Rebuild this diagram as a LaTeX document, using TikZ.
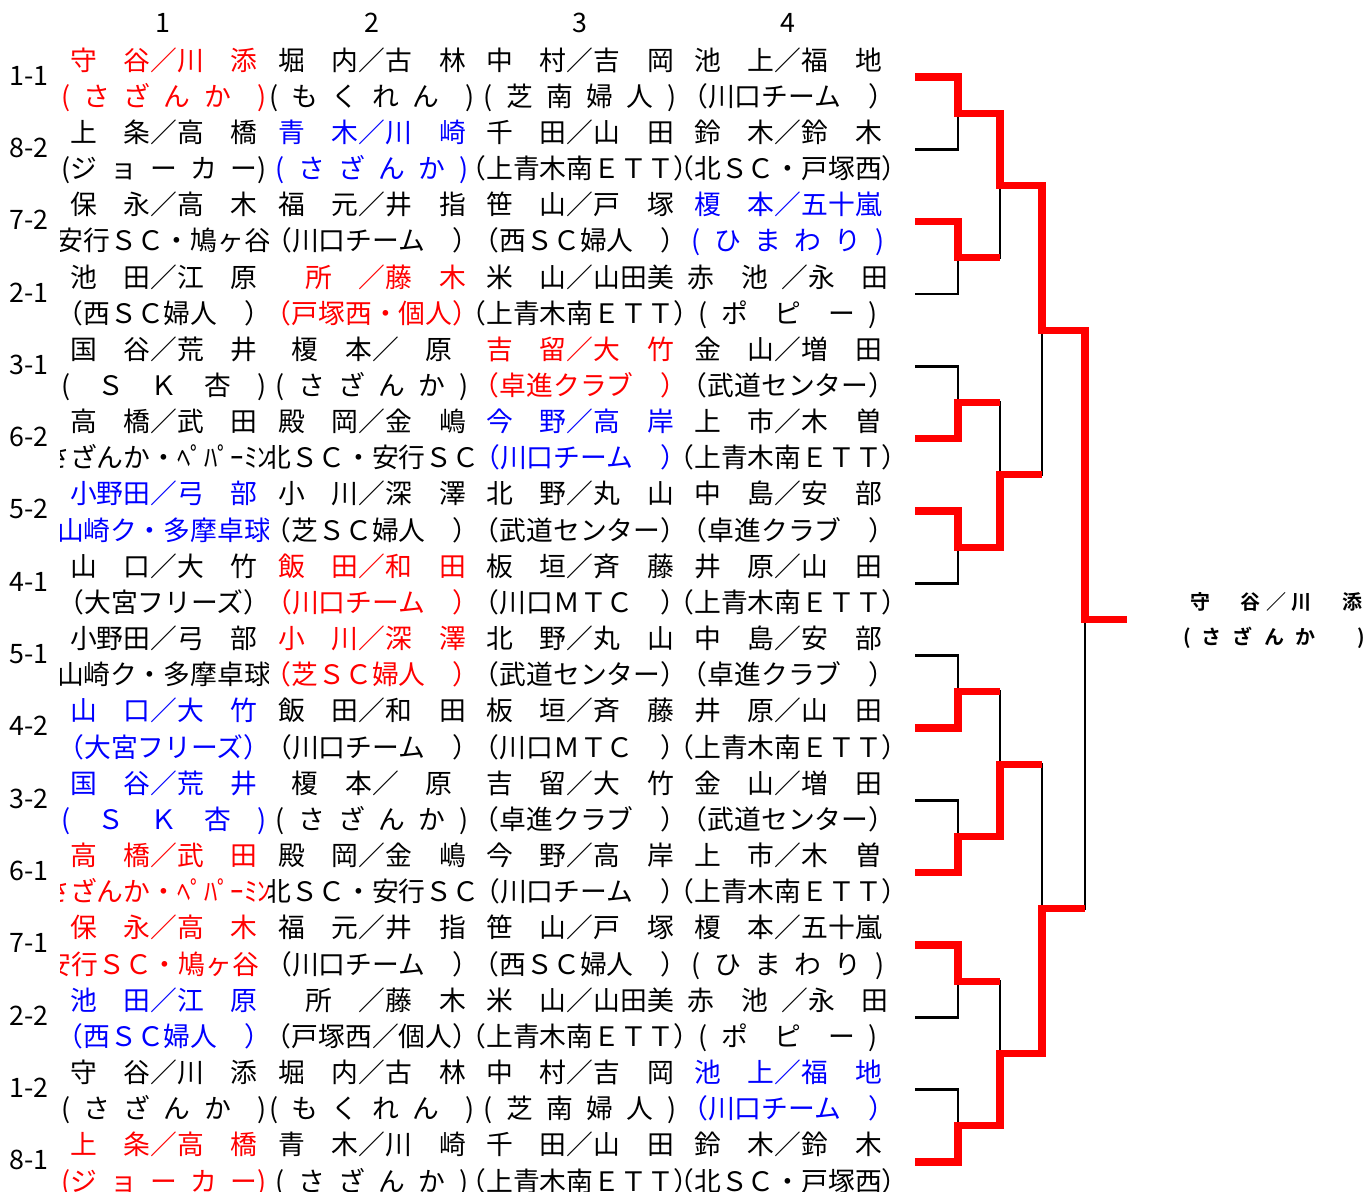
\documentclass[tikz,border=0pt]{standalone}
\usepackage{fontspec}
\usetikzlibrary{calc}

\newfontfamily\jpfont{Noto Sans CJK JP}
\IfFontExistsTF{Noto Sans CJK JP Bold}
  {\newfontfamily\jpboldfont{Noto Sans CJK JP Bold}}
  {\newfontfamily\jpboldfont{Noto Sans CJK JP}[FakeBold=4]}

\colorlet{winred}{red}
\definecolor{runblue}{RGB}{0,0,255}

\newcommand\fst[1]{\textcolor{winred}{#1}}
\newcommand\snd[1]{\textcolor{runblue}{#1}}
\newcommand\hsp{\hspace{.5em}}

\makeatletter
\newcommand\spreadtext[2]{\hbox to #1{\def\sp@sep{}%
  \@tfor\sp@tok:=#2\do{\sp@sep\sp@tok\def\sp@sep{\hfill}}}}
\makeatother

% one line of a cell, cut off at the cell edges
\newcommand\celltext[4]{%
  \begin{scope}
    \clip ({#2-104},{#3-18}) rectangle ({#2+104},{#3+18});
    \node[cell] (#1) at ({#2},{#3+10}) {#4};
  \end{scope}}

\newcommand\namerow[5]{%
  \pgfmathsetmacro\liney{60+72.33*#1}
  \celltext{n#1-1}{164}{\liney}{#2}
  \celltext{n#1-2}{372}{\liney}{#3}
  \celltext{n#1-3}{580}{\liney}{#4}
  \celltext{n#1-4}{788}{\liney}{#5}}

\newcommand\clubrow[5]{%
  \pgfmathsetmacro\liney{96.17+72.33*#1}
  \celltext{c#1-1}{164}{\liney}{#2}
  \celltext{c#1-2}{372}{\liney}{#3}
  \celltext{c#1-3}{580}{\liney}{#4}
  \celltext{c#1-4}{788}{\liney}{#5}}

\begin{document}
\begin{tikzpicture}[
  x=0.5pt, y=-0.5pt,
  cell/.style={anchor=base, inner sep=0pt, font=\jpfont\fontsize{13.4pt}{16pt}\selectfont},
  rowlab/.style={anchor=base, inner sep=0pt, font=\jpfont\fontsize{13.4pt}{16pt}\selectfont},
  colhead/.style={anchor=base, inner sep=0pt, font=\jpfont\fontsize{13.4pt}{16pt}\selectfont},
  champtxt/.style={anchor=base, inner sep=0pt, font=\jpboldfont\fontsize{10pt}{12pt}\selectfont},
  win/.style={draw=winred, line width=3.6pt},
  lose/.style={draw=black, line width=1.4pt},
]
\fill[white] (0,0) rectangle (1367,1191);
\useasboundingbox (0,0) rectangle (1367,1191);

% --- Column numbers and row labels ---
\foreach \c/\x in {1/163,2/372,3/580,4/788}
  \node[colhead] (h\c) at (\x,32) {\c};

\foreach \lab [count=\i from 0] in {1-1,8-2,7-2,2-1,3-1,6-2,5-2,4-1,5-1,4-2,3-2,6-1,7-1,2-2,1-2,8-1}
  \node[rowlab] (l\i) at (29,{85+72.33*\i}) {\lab};

% --- Table ---
\namerow{0}{\fst{守　谷／川　添}}{堀　内／古　林}{中　村／吉　岡}{池　上／福　地}
\clubrow{0}{\fst{(\hsp さ\hsp ざ\hsp ん\hsp か　)}}{(\hsp も\hsp く\hsp れ\hsp ん　)}{(\hsp 芝\hsp 南\hsp 婦\hsp 人\hsp )}{（川口チーム　）}

\namerow{1}{上　条／高　橋}{\snd{青　木／川　崎}}{千　田／山　田}{鈴　木／鈴　木}
\clubrow{1}{(ジ\hsp ョ\hsp ー\hsp カ\hsp ー)}{\snd{(\hsp さ\hsp ざ\hsp ん\hsp か\hsp )}}{（上青木南ＥＴＴ）}{（北ＳＣ・戸塚西）}

\namerow{2}{保　永／高　木}{福　元／井　指}{笹　山／戸　塚}{\snd{榎　本／五十嵐}}
\clubrow{2}{安行ＳＣ・鳩ヶ谷\hspace{.9em}}{（川口チーム　）}{（西ＳＣ婦人　）}{\snd{(\hsp ひ\hsp ま\hsp わ\hsp り\hsp )}}

\namerow{3}{池　田／江　原}{\fst{　所　／藤　木}}{米　山／山田美}{赤　池\hsp／永　田}
\clubrow{3}{（西ＳＣ婦人　）}{\fst{（戸塚西・個人）}}{（上青木南ＥＴＴ）}{(\hsp ポ　ピ　ー\hsp )}

\namerow{4}{国　谷／荒　井}{榎　本／　原}{\fst{吉　留／大　竹}}{金　山／増　田}
\clubrow{4}{(　Ｓ　Ｋ　杏　)}{(\hsp さ\hsp ざ\hsp ん\hsp か\hsp )}{\fst{（卓進クラブ　）}}{（武道センター）}

\namerow{5}{高　橋／武　田}{殿　岡／金　嶋}{\snd{今　野／高　岸}}{上　市／木　曽}
\clubrow{5}{（さざんか・ﾍﾟﾊﾟｰﾐﾝﾄ）}{（北ＳＣ・安行ＳＣ）}{\snd{（川口チーム　）}}{（上青木南ＥＴＴ）}

\namerow{6}{\snd{小野田／弓　部}}{小　川／深　澤}{北　野／丸　山}{中　島／安　部}
\clubrow{6}{\snd{山崎ク・多摩卓球}}{（芝ＳＣ婦人　）}{（武道センター）}{（卓進クラブ　）}

\namerow{7}{山　口／大　竹}{\fst{飯　田／和　田}}{板　垣／斉　藤}{井　原／山　田}
\clubrow{7}{（大宮フリーズ）}{\fst{（川口チーム　）}}{（川口ＭＴＣ　）}{（上青木南ＥＴＴ）}

\namerow{8}{小野田／弓　部}{\fst{小　川／深　澤}}{北　野／丸　山}{中　島／安　部}
\clubrow{8}{山崎ク・多摩卓球}{\fst{（芝ＳＣ婦人　）}}{（武道センター）}{（卓進クラブ　）}

\namerow{9}{\snd{山　口／大　竹}}{飯　田／和　田}{板　垣／斉　藤}{井　原／山　田}
\clubrow{9}{\snd{（大宮フリーズ）}}{（川口チーム　）}{（川口ＭＴＣ　）}{（上青木南ＥＴＴ）}

\namerow{10}{\snd{国　谷／荒　井}}{榎　本／　原}{吉　留／大　竹}{金　山／増　田}
\clubrow{10}{\snd{(　Ｓ　Ｋ　杏　)}}{(\hsp さ\hsp ざ\hsp ん\hsp か\hsp )}{（卓進クラブ　）}{（武道センター）}

\namerow{11}{\fst{高　橋／武　田}}{殿　岡／金　嶋}{今　野／高　岸}{上　市／木　曽}
\clubrow{11}{\fst{（さざんか・ﾍﾟﾊﾟｰﾐﾝﾄ）}}{（北ＳＣ・安行ＳＣ）}{（川口チーム　）}{（上青木南ＥＴＴ）}

\namerow{12}{\fst{保　永／高　木}}{福　元／井　指}{笹　山／戸　塚}{榎　本／五十嵐}
\clubrow{12}{\fst{安行ＳＣ・鳩ヶ谷\hspace{.9em}}}{（川口チーム　）}{（西ＳＣ婦人　）}{(\hsp ひ\hsp ま\hsp わ\hsp り\hsp )}

\namerow{13}{\snd{池　田／江　原}}{　所　／藤　木}{米　山／山田美}{赤　池\hsp／永　田}
\clubrow{13}{\snd{（西ＳＣ婦人　）}}{（戸塚西／個人）}{（上青木南ＥＴＴ）}{(\hsp ポ　ピ　ー\hsp )}

\namerow{14}{守　谷／川　添}{堀　内／古　林}{中　村／吉　岡}{\snd{池　上／福　地}}
\clubrow{14}{(\hsp さ\hsp ざ\hsp ん\hsp か　)}{(\hsp も\hsp く\hsp れ\hsp ん　)}{(\hsp 芝\hsp 南\hsp 婦\hsp 人\hsp )}{\snd{（川口チーム　）}}

\namerow{15}{\fst{上　条／高　橋}}{青　木／川　崎}{千　田／山　田}{鈴　木／鈴　木}
\clubrow{15}{\fst{(ジ\hsp ョ\hsp ー\hsp カ\hsp ー)}}{(\hsp さ\hsp ざ\hsp ん\hsp か\hsp )}{（上青木南ＥＴＴ）}{（北ＳＣ・戸塚西）}

% --- Bracket points ---
\foreach \k in {0,...,15}
  \coordinate (e\k) at (915,{77+72.33*\k});
\foreach \m in {0,...,7}
  \coordinate (j1-\m) at (958,{113.17+144.67*\m});
\foreach \m in {0,...,3}
  \coordinate (j2-\m) at (1000,{185.5+289.33*\m});
\foreach \m in {0,1}
  \coordinate (j3-\m) at (1042,{330.17+578.67*\m});
\coordinate (j4) at (1085,619.5);
\coordinate (champ) at (1127,619.5);

% --- Bracket: all lines thin ---
\foreach \k in {0,...,15} {
  \pgfmathtruncatemacro\m{\k/2}
  \draw[lose] (e\k) -| (j1-\m);
}
\foreach \k in {0,...,7} {
  \pgfmathtruncatemacro\m{\k/2}
  \draw[lose] (j1-\k) -| (j2-\m);
}
\foreach \k in {0,...,3} {
  \pgfmathtruncatemacro\m{\k/2}
  \draw[lose] (j2-\k) -| (j3-\m);
}
\draw[lose] (j3-0) -| (j4);
\draw[lose] (j3-1) -| (j4);

% --- Bracket: winners in red ---
\draw[win] (e0) -| (j1-0) -| (j2-0) -| (j3-0) -| (j4) -- (champ);
\draw[win] (e2) -| (j1-1) -- (j1-1 -| j2-0);
\draw[win] (e5) -| (j1-2) -- (j1-2 -| j2-1);
\draw[win] (e6) -| (j1-3) -| (j2-1) -- (j2-1 -| j3-0);
\draw[win] (e9) -| (j1-4) -- (j1-4 -| j2-2);
\draw[win] (e11) -| (j1-5) -| (j2-2) -- (j2-2 -| j3-1);
\draw[win] (e12) -| (j1-6) -- (j1-6 -| j2-3);
\draw[win] (e15) -| (j1-7) -| (j2-3) -| (j3-1) -- (j3-1 -| j4);

% --- Champion ---
\node[champtxt] (wname) at (1276,609) {\spreadtext{86pt}{守　谷／川　添}};
\node[champtxt] (wclub) at (1274,644) {\spreadtext{91pt}{(さざんか　)}};

\end{tikzpicture}
\end{document}
